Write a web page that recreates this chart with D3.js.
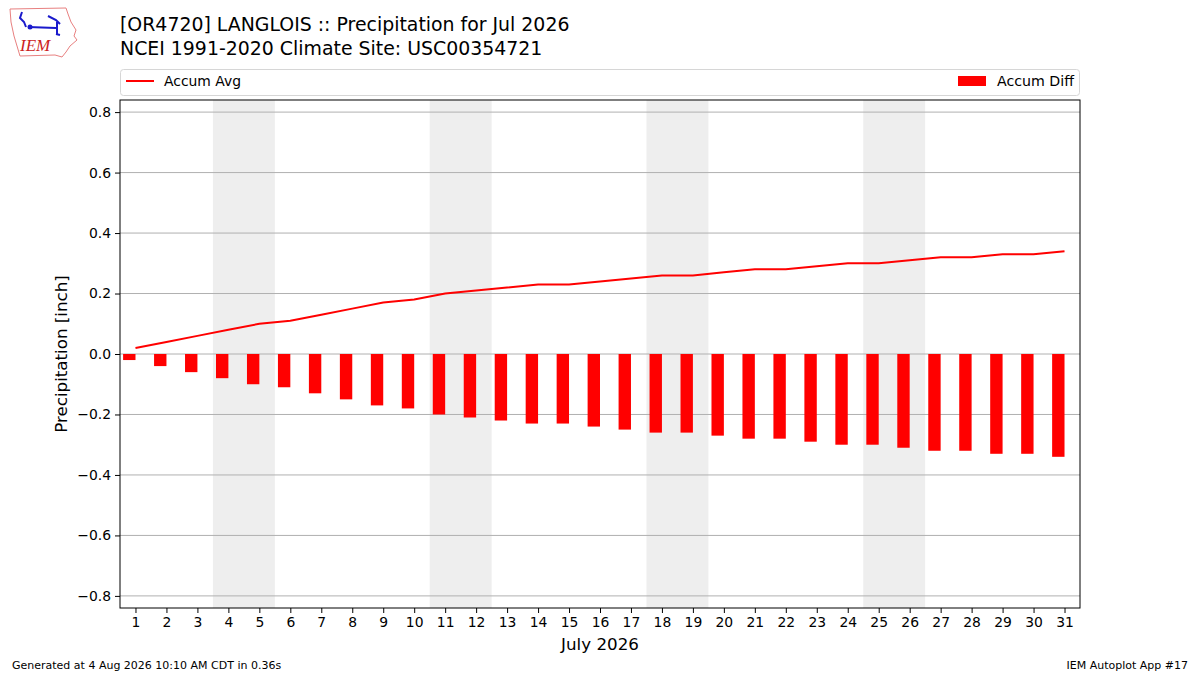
<!DOCTYPE html>
<html>
<head>
<meta charset="utf-8">
<script src="https://cdn.jsdelivr.net/npm/d3@7"></script>
<style>
  body { margin: 0; background: #fff; }
  text { font-family: "DejaVu Sans", sans-serif; }
</style>
</head>
<body>
<div id="chart"></div>
<script>
// days of July 2026
var days = d3.range(1, 32);
// accumulated average precipitation (inch)
var accumAvg = [0.02, 0.04, 0.06, 0.08, 0.10, 0.11, 0.13, 0.15, 0.17, 0.18,
    0.20, 0.21, 0.22, 0.23, 0.23, 0.24, 0.25, 0.26, 0.26, 0.27,
    0.28, 0.28, 0.29, 0.30, 0.30, 0.31, 0.32, 0.32, 0.33, 0.33, 0.34];
// accumulated departure (inch)
var accumDiff = [-0.02, -0.04, -0.06, -0.08, -0.10, -0.11, -0.13, -0.15, -0.17, -0.18,
    -0.20, -0.21, -0.22, -0.23, -0.23, -0.24, -0.25, -0.26, -0.26, -0.27,
    -0.28, -0.28, -0.29, -0.30, -0.30, -0.31, -0.32, -0.32, -0.33, -0.33, -0.34];
// weekend days (Sat, Sun)
var weekends = [[4, 5], [11, 12], [18, 19], [25, 26]];
var yTicks = [-0.8, -0.6, -0.4, -0.2, 0.0, 0.2, 0.4, 0.6, 0.8];

var svgWidth = 1200;
var svgHeight = 675;

var margin = { top: 100, right: 120, bottom: 67, left: 120 };
var chartWidth = svgWidth - margin.left - margin.right;
var chartHeight = svgHeight - margin.top - margin.bottom;

var svg = d3.select("#chart")
    .append("svg")
    .attr("width", svgWidth)
    .attr("height", svgHeight);

var chartGroup = svg.append("g")
    .attr("transform", `translate(${margin.left}, ${margin.top})`);

var xScale = d3.scaleLinear().domain([0.5, 31.5]).range([0, chartWidth]);
var yScale = d3.scaleLinear().domain([-0.84, 0.84]).range([chartHeight, 0]);

// weekend shading
chartGroup.selectAll(".weekend")
    .data(weekends)
    .enter().append("rect")
    .attr("class", "weekend")
    .attr("x", d => xScale(d[0] - 0.5))
    .attr("width", d => xScale(d[1] + 0.5) - xScale(d[0] - 0.5))
    .attr("y", 0)
    .attr("height", chartHeight)
    .attr("fill", "#eeeeee");

// y grid
chartGroup.selectAll(".grid")
    .data(yTicks)
    .enter().append("line")
    .attr("x1", 0)
    .attr("x2", chartWidth)
    .attr("y1", d => yScale(d))
    .attr("y2", d => yScale(d))
    .attr("stroke", "#b0b0b0")
    .attr("stroke-width", 1);

// bars
chartGroup.selectAll(".bar")
    .data(days)
    .enter().append("rect")
    .attr("class", "bar")
    .attr("x", d => xScale(d - 0.4))
    .attr("width", xScale(1.4) - xScale(1))
    .attr("y", (d, i) => yScale(Math.max(0, accumDiff[i])))
    .attr("height", (d, i) => Math.abs(yScale(accumDiff[i]) - yScale(0)))
    .attr("fill", "red");

// accum avg line
var line = d3.line()
    .x((d, i) => xScale(days[i]))
    .y(d => yScale(d));

chartGroup.append("path")
    .datum(accumAvg)
    .attr("d", line)
    .attr("fill", "none")
    .attr("stroke", "red")
    .attr("stroke-width", 2);

// axes
var bottomAxis = d3.axisBottom(xScale).tickValues(days).tickFormat(d3.format("d"))
    .tickSize(5).tickPadding(4);
var leftAxis = d3.axisLeft(yScale).tickValues(yTicks)
    .tickFormat(d => d3.format(".1f")(d).replace("-", "\u2212"))
    .tickSize(5).tickPadding(4);

var xAxis = chartGroup.append("g")
    .attr("transform", `translate(0,${chartHeight})`)
    .call(bottomAxis);
var yAxis = chartGroup.append("g").call(leftAxis);

[xAxis, yAxis].forEach(function (ax) {
    ax.select(".domain").remove();
    ax.selectAll("text").attr("font-size", "13.9px").attr("fill", "#000")
        .style("font-family", "DejaVu Sans");
    ax.selectAll("line").attr("stroke", "#000");
});

// frame
chartGroup.append("rect")
    .attr("width", chartWidth)
    .attr("height", chartHeight)
    .attr("fill", "none")
    .attr("stroke", "#000")
    .attr("stroke-width", 1);

// axis labels
svg.append("text")
    .attr("x", margin.left + chartWidth / 2)
    .attr("y", 650)
    .attr("text-anchor", "middle")
    .attr("font-size", "16.7px")
    .text("July 2026");

svg.append("text")
    .attr("transform", `translate(67, ${margin.top + chartHeight / 2}) rotate(-90)`)
    .attr("text-anchor", "middle")
    .attr("font-size", "16.7px")
    .text("Precipitation [inch]");

// titles
svg.append("text")
    .attr("x", 120).attr("y", 31)
    .attr("font-size", "18.9px")
    .text("[OR4720] LANGLOIS :: Precipitation for Jul 2026");
svg.append("text")
    .attr("x", 120).attr("y", 55)
    .attr("font-size", "18.9px")
    .text("NCEI 1991-2020 Climate Site: USC00354721");

// legend
var legend = svg.append("g");
legend.append("rect")
    .attr("x", 120.5).attr("y", 69.5)
    .attr("width", 959).attr("height", 26)
    .attr("rx", 3)
    .attr("fill", "#fff")
    .attr("stroke", "#d6d6d6");
legend.append("line")
    .attr("x1", 126).attr("x2", 154)
    .attr("y1", 81).attr("y2", 81)
    .attr("stroke", "red").attr("stroke-width", 2);
legend.append("text")
    .attr("x", 164).attr("y", 86)
    .attr("font-size", "13.9px")
    .text("Accum Avg");
legend.append("rect")
    .attr("x", 958).attr("y", 76)
    .attr("width", 28).attr("height", 10)
    .attr("fill", "red");
legend.append("text")
    .attr("x", 1074).attr("y", 86)
    .attr("text-anchor", "end")
    .attr("font-size", "14.2px")
    .text("Accum Diff");

// footer
svg.append("text")
    .attr("x", 12).attr("y", 669)
    .attr("font-size", "11px")
    .text("Generated at 4 Aug 2026 10:10 AM CDT in 0.36s");
svg.append("text")
    .attr("x", 1188).attr("y", 669)
    .attr("text-anchor", "end")
    .attr("font-size", "11px")
    .text("IEM Autoplot App #17");

// IEM logo (simplified)
var logo = svg.append("g");
logo.append("path")
    .attr("d", "M10,9 L66,8 L68,14 L71,22 L76,30 L74,36 L77,40 L70,46 L66,52 L62,57 L55,55 L20,56 L17,46 L14,36 L11,22 Z")
    .attr("fill", "#fff")
    .attr("stroke", "#e88080")
    .attr("stroke-width", 1);
logo.append("path")
    .attr("d", "M22,12 L20,18 L24,22 L26,27 M28,27 L56,28 M57,22 L57,34 M48,16 L56,20 L60,24 M56,34 L60,35")
    .attr("fill", "none")
    .attr("stroke", "#1a1acc")
    .attr("stroke-width", 2);
logo.append("circle").attr("cx", 30).attr("cy", 27).attr("r", 2.5).attr("fill", "#1a1acc");
logo.append("text")
    .attr("x", 20).attr("y", 51)
    .attr("font-size", "17px")
    .attr("font-style", "italic")
    .attr("fill", "#cc2222")
    .style("font-family", "Liberation Serif, serif")
    .text("IEM");
</script>
</body>
</html>
